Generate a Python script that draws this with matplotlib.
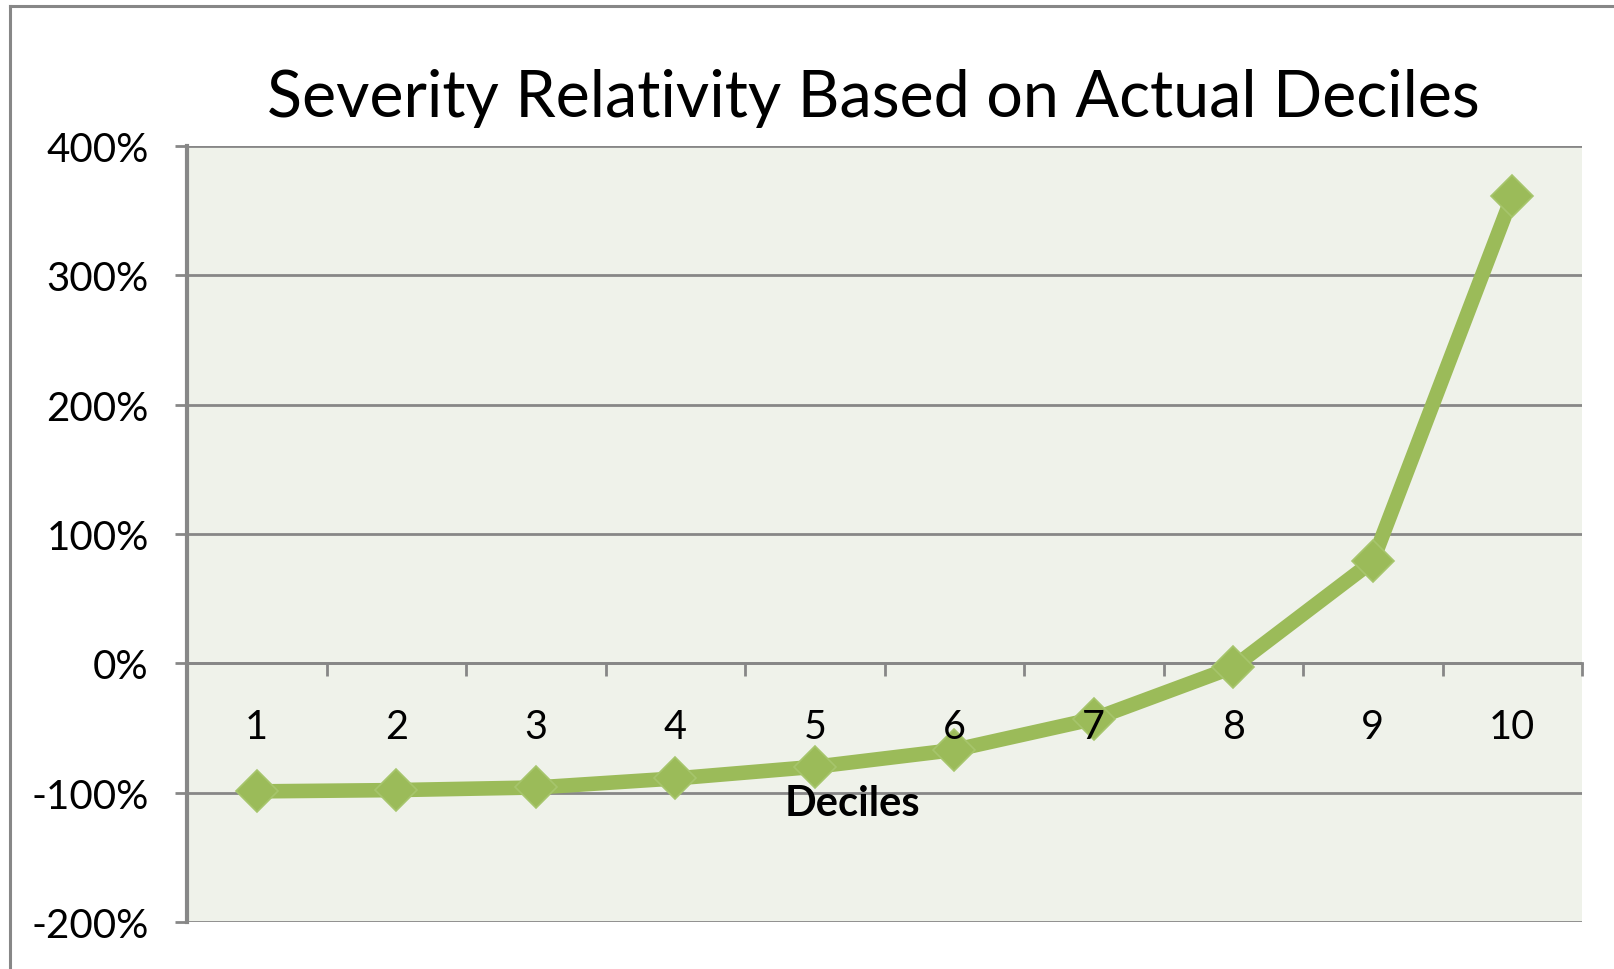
import numpy as np
import matplotlib
matplotlib.use("Agg")
import matplotlib.pyplot as plt
from matplotlib.lines import Line2D
from matplotlib.ticker import PercentFormatter, FixedLocator

# --- Data ---
deciles = [1, 2, 3, 4, 5, 6, 7, 8, 9, 10]
relativity = [-0.99, -0.98, -0.96, -0.89, -0.80, -0.67, -0.43, -0.03, 0.79, 3.61]

plt.rcParams['font.family'] = ['Lato', 'DejaVu Sans']
plt.rcParams['axes.unicode_minus'] = False

GREEN = "#9BBB59"
GRAY = "#878787"

W, H = 1614, 970
fig = plt.figure(figsize=(W / 100, H / 100), dpi=100)
fig.patch.set_facecolor("white")

# plot area in pixel terms
left, right, top, bottom = 187, 1582, 147, 923
ax = fig.add_axes([left / W, (H - bottom) / H, (right - left) / W, (bottom - top) / H])
ax.set_facecolor("#EFF2EA")

ax.plot(deciles, relativity, color=GREEN, lw=10.5, marker="D", ms=21,
        mfc=GREEN, mec="#A6C56C", mew=1.2, solid_joinstyle="round", zorder=3)

ax.set_xlim(0.5, 10.5)
ax.set_ylim(-2, 4)
ax.set_yticks(np.arange(-2, 4.01, 1))
ax.yaxis.set_major_formatter(PercentFormatter(xmax=1, decimals=0))
ax.grid(axis="y", color=GRAY, lw=2.0, zorder=1)
ax.set_axisbelow(True)

# category axis sits at 0%, its labels drawn over the line
ax.spines["bottom"].set_position(("data", 0))
ax.spines["bottom"].set_color(GRAY)
ax.spines["bottom"].set_linewidth(2.0)
ax.spines["left"].set_color(GRAY)
ax.spines["left"].set_linewidth(3.0)
ax.spines["top"].set_visible(False)
ax.spines["right"].set_visible(False)
ax.xaxis.set_zorder(4)

ax.set_xticks(deciles)
ax.xaxis.set_minor_locator(FixedLocator(np.arange(0.5, 10.6, 1)))
ax.tick_params(axis="x", which="major", length=0, pad=32, labelsize=28.5)
ax.tick_params(axis="x", which="minor", length=9.4, width=2.0, color=GRAY, direction="out")
ax.tick_params(axis="y", length=8.6, width=2.0, color=GRAY, pad=19, labelsize=29)

ax.set_xlabel("Deciles", fontsize=30, fontweight="bold", va="baseline")
ax.xaxis.set_label_coords((852 - left) / (right - left), (bottom - 816) / (bottom - top))

fig.text(873 / W, (H - 117) / H, "Severity Relativity Based on Actual Deciles",
         fontsize=46.5, ha="center", va="baseline")

# chart frame
fig.add_artist(Line2D([10 / W, 10 / W], [0, (H - 7) / H], color=GRAY, lw=2.2))
fig.add_artist(Line2D([10 / W, 1], [(H - 7) / H, (H - 7) / H], color=GRAY, lw=2.2))

fig.savefig("out.png", dpi=100)
